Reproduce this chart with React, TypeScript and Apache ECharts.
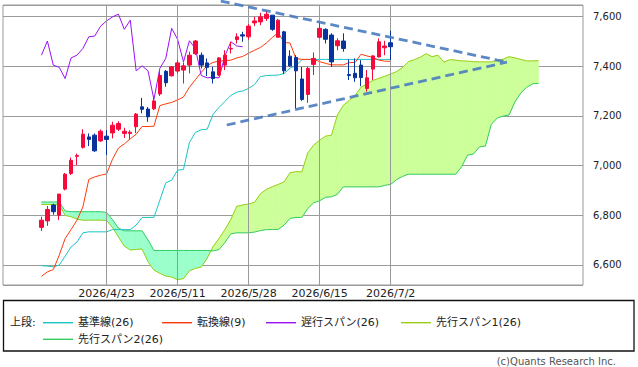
import React, { useEffect, useRef } from "react";
import * as echarts from "echarts";

// ---- axis / layout constants (category slots) ----
const OFFSET = 6; // empty category slots before first candle
const N_CAT = 98; // total category slots
const SHIFT = 25; // senkou forward shift / chikou backward shift (in bars)

const tickIndex = [11, 23, 35, 47, 59];
const tickLabels = ["2026/4/23", "2026/5/11", "2026/5/28", "2026/6/15", "2026/7/2"];

// ---- candles ----
const openP = [
  6751, 6777, 6841, 6800, 6905, 6968, 7037, 7073, 7115, 7122,
  7099, 7118, 7131, 7146, 7129, 7129, 7156, 7236, 7227, 7228,
  7288, 7379, 7361, 7380, 7384, 7404, 7450, 7444, 7413, 7377,
  7364, 7404, 7469, 7507, 7526, 7518, 7574, 7578, 7592, 7605,
  7516, 7538, 7440, 7435, 7348, 7286, 7407, 7516, 7548, 7525,
  7482, 7501, 7366, 7371, 7404, 7310, 7388, 7437, 7474, 7494,
];
const closeP = [
  6780, 6823, 6814, 6885, 6965, 7021, 7040, 7126, 7105, 7059,
  7138, 7105, 7162, 7169, 7138, 7134, 7207, 7226, 7196, 7260,
  7362, 7333, 7397, 7413, 7401, 7444, 7501, 7404, 7395, 7350,
  7433, 7444, 7471, 7518, 7521, 7561, 7582, 7598, 7609, 7548,
  7585, 7381, 7401, 7381, 7266, 7391, 7431, 7552, 7508, 7417,
  7502, 7471, 7362, 7353, 7354, 7353, 7441, 7498, 7481, 7478,
];
const lowP = [
  6737, 6757, 6802, 6781, 6900, 6962, 7001, 7068, 7078, 7055,
  7095, 7042, 7109, 7139, 7111, 7106, 7130, 7210, 7176, 7223,
  7280, 7317, 7358, 7371, 7330, 7371, 7445, 7391, 7360, 7330,
  7360, 7384, 7451, 7491, 7498, 7507, 7561, 7565, 7582, 7542,
  7516, 7368, 7397, 7230, 7260, 7252, 7364, 7512, 7491, 7397,
  7464, 7458, 7344, 7337, 7319, 7297, 7344, 7435, 7444, 7424,
];
const highP = [
  6794, 6837, 6846, 6885, 6970, 7032, 7048, 7146, 7129, 7129,
  7145, 7142, 7176, 7178, 7152, 7142, 7211, 7272, 7235, 7276,
  7380, 7384, 7400, 7424, 7415, 7458, 7505, 7455, 7431, 7397,
  7436, 7464, 7498, 7532, 7538, 7569, 7598, 7615, 7625, 7605,
  7590, 7542, 7464, 7444, 7397, 7397, 7455, 7576, 7552, 7532,
  7512, 7532, 7427, 7431, 7424, 7384, 7444, 7512, 7502, 7542,
];

// ---- ichimoku lines ----
const tenkan = [
  6554, 6572, 6581, 6639, 6706, 6742, 6780, 6833, 6944, 6954,
  6961, 6966, 7025, 7070, 7087, 7107, 7126, 7157, 7157, 7158,
  7241, 7248, 7254, 7264, 7276, 7315, 7345, 7375, 7402, 7415,
  7420, 7422, 7424, 7433, 7439, 7452, 7464, 7475, 7493, 7515,
  7535, 7495, 7493, 7431, 7427, 7427, 7427, 7418, 7411, 7405,
  7405, 7405, 7414, 7415, 7448, 7441, 7435, 7424, 7420, 7419,
];
const kijun = [
  6597, 6595, 6592, 6599, 6635, 6672, 6692, 6729, 6733, 6733,
  6733, 6733, 6742, 6742, 6742, 6742, 6760, 6791, 6791, 6791,
  6860, 6930, 6941, 6981, 6984, 7092, 7133, 7144, 7146, 7206,
  7234, 7258, 7282, 7295, 7300, 7310, 7326, 7358, 7362, 7363,
  7364, 7370, 7392, 7402, 7426, 7427, 7427, 7427, 7427, 7427,
  7427, 7427, 7427, 7427, 7427, 7427, 7427, 7427, 7427, 7427,
];
const senkouA = [
  6843, 6843, 6843, 6843, 6799, 6794, 6784, 6780, 6780, 6780,
  6780, 6778, 6751, 6713, 6675, 6660, 6662, 6664, 6613, 6579,
  6566, 6555, 6551, 6540, 6545, 6576, 6586, 6591, 6627, 6674,
  6706, 6742, 6783, 6836, 6841, 6845, 6852, 6886, 6904, 6914,
  6924, 6934, 6971, 6975, 6975, 7051, 7082, 7102, 7118, 7122,
  7203, 7242, 7262, 7282, 7315, 7329, 7342, 7351, 7359, 7368,
  7378, 7394, 7418, 7426, 7436, 7450, 7438, 7444, 7416, 7426,
  7424, 7421, 7420, 7418, 7417, 7417, 7417, 7422, 7428, 7438,
  7433, 7427, 7421, 7421, 7422,
];
const senkouB = [
  6853, 6853, 6853, 6853, 6817, 6814, 6814, 6814, 6814, 6814,
  6814, 6811, 6782, 6748, 6737, 6737, 6737, 6737, 6700, 6658,
  6658, 6658, 6658, 6658, 6658, 6658, 6658, 6658, 6658, 6656,
  6662, 6690, 6725, 6729, 6729, 6729, 6732, 6738, 6742, 6742,
  6743, 6760, 6787, 6791, 6791, 6827, 6850, 6858, 6872, 6874,
  6884, 6914, 6914, 6914, 6914, 6914, 6914, 6914, 6920, 6924,
  6943, 6956, 6965, 6965, 6965, 6965, 6965, 6965, 6965, 6965,
  6965, 6995, 7042, 7046, 7075, 7078, 7165, 7191, 7199, 7203,
  7256, 7292, 7315, 7329, 7330,
];

// trend lines: [bar index (fractional), price]
const trendUpper = [[30.3, 7662], [78.65, 7416]];
const trendLower = [[31.3, 7163], [78.65, 7416]];

const legendNames = ["基準線(26)", "転換線(9)", "遅行スパン(26)", "先行スパン1(26)", "先行スパン2(26)"];

const C_KIJUN = "#19c4c6";
const C_TENKAN = "#ff3a0a";
const C_CHIKOU = "#9b11f5";
const C_SPAN1 = "#9ccc16";
const C_SPAN2 = "#35cc64";
const FILL_UP = "#ccff99";
const FILL_DOWN = "#9bffcc";
const C_UP = "#f7093c";
const C_DOWN = "#06339c";
const C_GRID = "#9a9a9a";
const FONT = '"DejaVu Sans", "Noto Sans CJK JP", sans-serif';

function padSeries(vals: number[], start: number): (number | null)[] {
  const out: (number | null)[] = new Array(N_CAT).fill(null);
  vals.forEach((v, i) => {
    out[start + i] = v;
  });
  return out;
}

export default function App() {
  const ref = useRef<HTMLDivElement>(null);
  useEffect(() => {
    document.body.style.margin = "0";
    const chart = echarts.init(ref.current!, null, { renderer: "svg" });

    const cats = Array.from({ length: N_CAT }, (_, k) => "c" + k);
    const labelAt: Record<number, string> = {};
    tickIndex.forEach((ti, k) => {
      labelAt[ti + OFFSET] = tickLabels[k];
    });

    const candleData: any[] = new Array(N_CAT).fill("-");
    openP.forEach((o, i) => {
      candleData[i + OFFSET] = [o, closeP[i], lowP[i], highP[i]];
    });

    const chikou = padSeries(closeP.slice(SHIFT), OFFSET);

    const cloudData: number[][] = [];
    for (let k = 0; k < senkouA.length - 1; k++) {
      cloudData.push([k + OFFSET, senkouA[k], senkouB[k], senkouA[k + 1], senkouB[k + 1]]);
    }

    const lineBase = {
      type: "line",
      showSymbol: false,
      symbol: "none",
      connectNulls: false,
      silent: true,
    };

    const legendRow1Y = 322.7;
    const legendRow2Y = 339.3;
    const legendItems = [
      { x: 43, y: legendRow1Y, color: C_KIJUN, name: legendNames[0] },
      { x: 162, y: legendRow1Y, color: C_TENKAN, name: legendNames[1] },
      { x: 266, y: legendRow1Y, color: C_CHIKOU, name: legendNames[2] },
      { x: 401, y: legendRow1Y, color: C_SPAN1, name: legendNames[3] },
      { x: 43, y: legendRow2Y, color: C_SPAN2, name: legendNames[4] },
    ];
    const graphics: any[] = [
      {
        type: "rect",
        shape: { x: 3.5, y: 300.5, width: 630.5, height: 50.5 },
        style: { fill: "#fff", stroke: "#111", lineWidth: 1.3 },
        z: 0,
      },
      {
        type: "text",
        x: 10,
        y: legendRow1Y,
        style: { text: "上段:", font: `11px ${FONT}`, fill: "#222", verticalAlign: "middle" },
      },
      {
        type: "text",
        x: 616,
        y: 361.5,
        style: {
          text: "(c)Quants Research Inc.",
          font: `10px ${FONT}`,
          fill: "#555",
          align: "right",
          verticalAlign: "middle",
        },
      },
    ];
    legendItems.forEach((it) => {
      graphics.push({
        type: "line",
        shape: { x1: it.x, y1: it.y, x2: it.x + 30, y2: it.y },
        style: { stroke: it.color, lineWidth: 1.4 },
      });
      graphics.push({
        type: "text",
        x: it.x + 35,
        y: it.y,
        style: { text: it.name, font: `11px ${FONT}`, fill: "#222", verticalAlign: "middle" },
      });
    });

    const option: any = {
      animation: false,
      backgroundColor: "#fff",
      grid: {
        left: 3,
        right: 55,
        top: 5,
        bottom: 82,
        show: true,
        borderColor: C_GRID,
        borderWidth: 1,
        backgroundColor: "transparent",
      },
      xAxis: [
        {
          type: "category",
          data: cats,
          boundaryGap: true,
          axisLine: { show: false },
          axisTick: { show: false },
          splitLine: { show: false },
          axisLabel: {
            interval: 0,
            margin: 3,
            formatter: (_v: string, idx: number) => labelAt[idx] || "",
            fontFamily: FONT,
            fontSize: 11,
            color: "#222",
          },
        },
        {
          type: "value",
          min: -OFFSET - 0.5,
          max: N_CAT - OFFSET - 0.5,
          show: false,
          splitLine: { show: false },
        },
      ],
      yAxis: {
        type: "value",
        position: "right",
        min: 6519,
        max: 7646,
        splitNumber: 5,
        axisLine: { show: false },
        axisTick: { show: true, length: 5, lineStyle: { color: C_GRID } },
        splitLine: { show: true, lineStyle: { color: C_GRID, width: 1 } },
        axisLabel: {
          showMinLabel: false,
          showMaxLabel: false,
          margin: 10,
          fontFamily: FONT,
          fontSize: 10,
          color: "#222",
          formatter: (v: number) => v.toLocaleString("en-US"),
        },
      },
      graphic: graphics,
      series: [
        {
          type: "line",
          data: [],
          z: 1,
          silent: true,
          markLine: {
            silent: true,
            symbol: ["none", "none"],
            label: { show: false },
            lineStyle: { color: C_GRID, width: 1, type: "solid" },
            data: tickIndex.map((ti) => ({ xAxis: ti + OFFSET })),
          },
        },
        {
          type: "custom",
          z: 2,
          silent: true,
          data: cloudData,
          encode: { x: 0, y: [1, 2] },
          renderItem: (_params: any, api: any) => {
            const c = api.value(0);
            const a0 = api.value(1);
            const b0 = api.value(2);
            const a1 = api.value(3);
            const b1 = api.value(4);
            const pa0 = api.coord([c, a0]);
            const pb0 = api.coord([c, b0]);
            const pa1 = api.coord([c + 1, a1]);
            const pb1 = api.coord([c + 1, b1]);
            const d0 = a0 - b0;
            const d1 = a1 - b1;
            const col = (d: number) => (d >= 0 ? FILL_UP : FILL_DOWN);
            const mk = (pts: number[][], fill: string) => ({
              type: "polygon",
              shape: { points: pts },
              style: { fill, stroke: fill, lineWidth: 0.6 },
            });
            if (d0 * d1 >= 0) {
              return mk([pa0, pa1, pb1, pb0], col(d0 + d1));
            }
            const t = d0 / (d0 - d1);
            const px = pa0[0] + t * (pa1[0] - pa0[0]);
            const py = pa0[1] + t * (pa1[1] - pa0[1]);
            return {
              type: "group",
              children: [mk([pa0, [px, py], pb0], col(d0)), mk([[px, py], pa1, pb1], col(d1))],
            };
          },
        },
        {
          ...lineBase,
          name: legendNames[3],
          z: 3,
          data: padSeries(senkouA, OFFSET),
          lineStyle: { color: C_SPAN1, width: 1 },
        },
        {
          ...lineBase,
          name: legendNames[4],
          z: 3,
          data: padSeries(senkouB, OFFSET),
          lineStyle: { color: C_SPAN2, width: 1 },
        },
        {
          ...lineBase,
          name: legendNames[0],
          z: 4,
          data: padSeries(kijun, OFFSET),
          lineStyle: { color: C_KIJUN, width: 1 },
        },
        {
          ...lineBase,
          name: legendNames[1],
          z: 4,
          data: padSeries(tenkan, OFFSET),
          lineStyle: { color: C_TENKAN, width: 1 },
        },
        {
          ...lineBase,
          name: legendNames[2],
          z: 4,
          data: chikou,
          lineStyle: { color: C_CHIKOU, width: 1 },
        },
        {
          type: "candlestick",
          z: 5,
          silent: true,
          barWidth: 4,
          data: candleData,
          itemStyle: {
            color: C_UP,
            color0: C_DOWN,
            borderColor: C_UP,
            borderColor0: C_DOWN,
            borderWidth: 1,
          },
        },
        {
          ...lineBase,
          xAxisIndex: 1,
          z: 6,
          clip: false,
          data: trendUpper,
          lineStyle: { color: "#4a7cc0", width: 2.8, type: [9, 5], opacity: 0.9, cap: "butt" },
        },
        {
          ...lineBase,
          xAxisIndex: 1,
          z: 6,
          clip: false,
          data: trendLower,
          lineStyle: { color: "#4a7cc0", width: 2.8, type: [9, 5], opacity: 0.9, cap: "butt" },
        },
      ],
    };
    chart.setOption(option);
    return () => chart.dispose();
  }, []);
  return (
    <div
      ref={ref}
      style={{ position: "absolute", left: 0, top: 0, width: 638, height: 367 }}
    />
  );
}
